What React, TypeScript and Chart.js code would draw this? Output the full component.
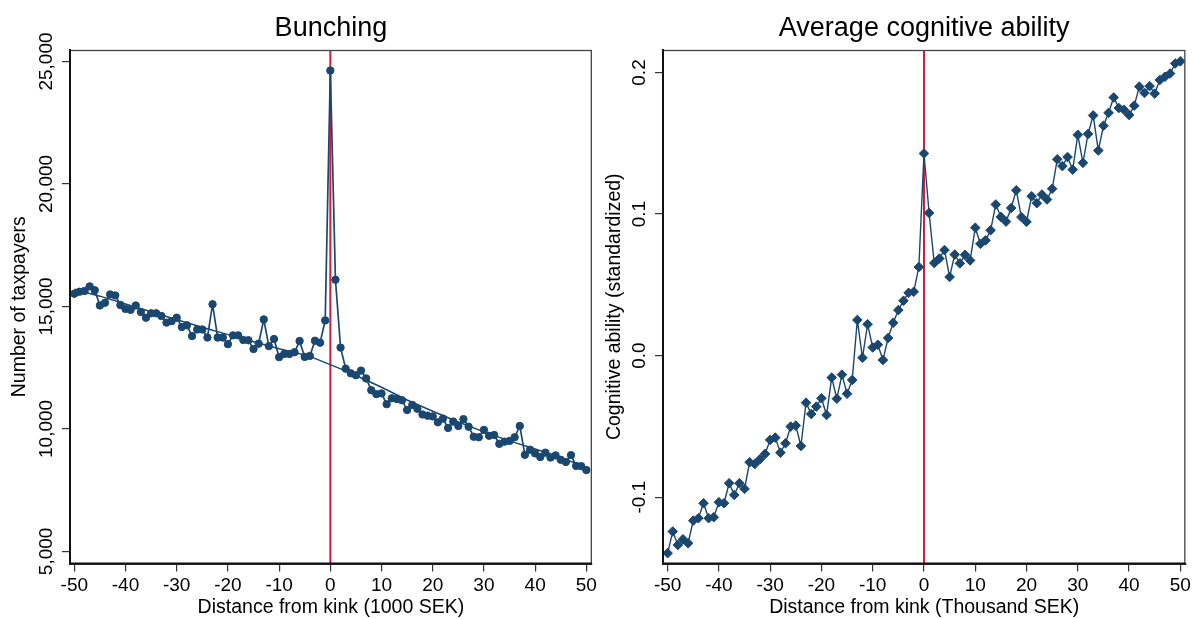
import React, { useEffect, useRef } from 'react';
import { Chart, registerables } from 'chart.js';

Chart.register(...registerables);

const FONT = '"Liberation Sans", Arial, Helvetica, sans-serif';
const NAVY = '#1a476f';
const RED = '#d7193c';

// Distance from kink (1000 SEK) bins
const distance = [
  -50, -49, -48, -47, -46, -45, -44, -43, -42, -41, -40, -39, -38, -37, -36, -35, -34, -33, -32, -31,
  -30, -29, -28, -27, -26, -25, -24, -23, -22, -21, -20, -19, -18, -17, -16, -15, -14, -13, -12, -11,
  -10, -9, -8, -7, -6, -5, -4, -3, -2, -1, 0, 1, 2, 3, 4, 5, 6, 7, 8, 9,
  10, 11, 12, 13, 14, 15, 16, 17, 18, 19, 20, 21, 22, 23, 24, 25, 26, 27, 28, 29,
  30, 31, 32, 33, 34, 35, 36, 37, 38, 39, 40, 41, 42, 43, 44, 45, 46, 47, 48, 49, 50,
];

// Number of taxpayers per bin
const taxpayers = [
  15520, 15600, 15630, 15820, 15660, 15040, 15150, 15490, 15450, 15060,
  14900, 14860, 15040, 14770, 14540, 14720, 14720, 14610, 14340, 14400,
  14540, 14160, 14230, 13790, 14060, 14060, 13730, 15090, 13730, 13730,
  13460, 13820, 13820, 13630, 13620, 13260, 13480, 14470, 13380, 13670,
  12930, 13060, 13060, 13130, 13590, 12940, 12980, 13600, 13520, 14430,
  24630, 16090, 13320, 12460, 12270, 12190, 12380, 12060, 11580, 11420,
  11450, 11010, 11250, 11220, 11170, 10770, 10980, 10820, 10590, 10540,
  10510, 10270, 10420, 10040, 10300, 10120, 10400, 10090, 9680, 9660,
  9960, 9720, 9750, 9390, 9480, 9510, 9660, 10120, 8940, 9150,
  9000, 8850, 9030, 8830, 8920, 8740, 8650, 8930, 8490, 8480, 8320,
];

// Counterfactual (fitted) distribution
const fitX = [-50, -45, -40, -35, -30, -25, -20, -15, -10, -5, -4, 3, 5, 10, 15, 20, 25, 30, 35, 40, 45, 50];
const fitY = [15700, 15420, 15100, 14780, 14460, 14150, 13850, 13560, 13270, 13020, 12960, 12370, 12180, 11700, 11180, 10720, 10280, 9880, 9510, 9180, 8830, 8420];

// Average cognitive ability (standardized) per bin
const cognitive = [
  -0.1395, -0.1242, -0.1337, -0.1297, -0.1325, -0.1165, -0.1148, -0.1042, -0.1148, -0.1141,
  -0.1035, -0.1042, -0.0901, -0.0984, -0.0901, -0.0941, -0.0753, -0.0765, -0.0732, -0.0694,
  -0.0595, -0.0579, -0.0685, -0.0619, -0.0501, -0.0494, -0.0638, -0.0332, -0.0412, -0.0360,
  -0.0301, -0.0419, -0.0155, -0.0304, -0.0134, -0.0269, -0.0172, 0.0252, -0.0015, 0.0222,
  0.0058, 0.0077, -0.0031, 0.0125, 0.0232, 0.0322, 0.0388, 0.0444, 0.0451, 0.0626,
  0.1428, 0.1008, 0.0654, 0.0686, 0.0746, 0.0556, 0.0714, 0.0652, 0.0712, 0.0673,
  0.0904, 0.0790, 0.0814, 0.0886, 0.1068, 0.0980, 0.0947, 0.1043, 0.1168, 0.0979,
  0.0945, 0.1126, 0.1077, 0.1138, 0.1103, 0.1179, 0.1387, 0.1339, 0.1403, 0.1314,
  0.1560, 0.1362, 0.1566, 0.1697, 0.1449, 0.1624, 0.1715, 0.1824, 0.1749, 0.1737,
  0.1700, 0.1766, 0.1900, 0.1856, 0.1904, 0.1851, 0.1947, 0.1970, 0.1993, 0.2064, 0.2079,
];

const xTicks = [-50, -40, -30, -20, -10, 0, 10, 20, 30, 40, 50];
const leftYTicks = [5000, 10000, 15000, 20000, 25000];
const rightYTicks = [-0.1, 0, 0.1, 0.2];

const LEFT_Y = { min: 4505, max: 25470 };
const RIGHT_Y = { min: -0.1468, max: 0.2159 };
const LEFT_X = { min: -50.84, max: 51.07 };
const RIGHT_X = { min: -50.9, max: 50.97 };

function framePlugin(labelX: number, fmt: (v: number) => string) {
  return {
    id: 'frameAndYLabels',
    afterDraw(chart: any) {
      const { ctx, chartArea: a } = chart;
      ctx.save();
      ctx.strokeStyle = '#444';
      ctx.lineWidth = 1.3;
      ctx.strokeRect(a.left, a.top + 0.5, a.right - a.left - 0.5, a.bottom - a.top);
      ctx.strokeStyle = '#111';
      ctx.lineWidth = 2;
      ctx.beginPath();
      ctx.moveTo(a.left, a.top);
      ctx.lineTo(a.left, a.bottom);
      ctx.lineTo(a.right, a.bottom);
      ctx.stroke();
      const ys = chart.scales.y;
      ctx.fillStyle = '#000';
      ctx.font = `19px ${FONT}`;
      ctx.textAlign = 'center';
      ctx.textBaseline = 'alphabetic';
      ys.ticks.forEach((t: any) => {
        const py = ys.getPixelForValue(t.value);
        ctx.save();
        ctx.translate(labelX, py);
        ctx.rotate(-Math.PI / 2);
        ctx.fillText(fmt(t.value), 0, 0);
        ctx.restore();
      });
      ctx.restore();
    },
  };
}

function axisCommon() {
  return {
    grid: {
      display: true,
      drawOnChartArea: false,
      drawTicks: true,
      tickLength: 8,
      color: '#333',
      tickColor: '#333',
      lineWidth: 1.2,
    },
    border: { display: true, color: '#111', width: 2 },
  };
}

function buildConfig(p: {
  title: string;
  xTitle: string;
  yTitle: string;
  xr: { min: number; max: number };
  yr: { min: number; max: number };
  yTicks: number[];
  yWidth: number;
  yTitlePad: number;
  labelX: number;
  fmt: (v: number) => string;
  datasets: any[];
}) {
  return {
    type: 'scatter' as const,
    data: { datasets: p.datasets },
    options: {
      responsive: false,
      animation: false as const,
      events: [],
      layout: { padding: { left: 0, right: 7, top: 0, bottom: 0 } },
      plugins: {
        legend: { display: false },
        tooltip: { enabled: false },
        title: {
          display: true,
          text: p.title,
          fullSize: false,
          color: '#000',
          font: { size: 27, family: FONT, weight: 'normal' as const },
          padding: { top: 12.5, bottom: 5.1 },
        },
      },
      scales: {
        x: {
          type: 'linear' as const,
          min: p.xr.min,
          max: p.xr.max,
          ...axisCommon(),
          afterBuildTicks: (s: any) => {
            s.ticks = xTicks.map((v) => ({ value: v }));
          },
          afterFit: (s: any) => {
            s.height = 55.5;
          },
          ticks: {
            color: '#000',
            font: { size: 19, family: FONT },
            padding: 3,
            maxRotation: 0,
            autoSkip: false,
            callback: (v: any) => String(v),
          },
          title: {
            display: true,
            text: p.xTitle,
            color: '#000',
            font: { size: 19.5, family: FONT },
            padding: { top: 0, bottom: 0 },
          },
        },
        y: {
          type: 'linear' as const,
          min: p.yr.min,
          max: p.yr.max,
          ...axisCommon(),
          afterBuildTicks: (s: any) => {
            s.ticks = p.yTicks.map((v) => ({ value: v }));
          },
          afterFit: (s: any) => {
            s.width = p.yWidth;
          },
          ticks: { display: false },
          title: {
            display: true,
            text: p.yTitle,
            color: '#000',
            font: { size: 19.5, family: FONT },
            padding: { top: p.yTitlePad, bottom: 0 },
          },
        },
      },
    },
    plugins: [framePlugin(p.labelX, p.fmt)],
  };
}

function ChartCanvas({ config, width, height, left }: any) {
  const ref = useRef<HTMLCanvasElement | null>(null);
  useEffect(() => {
    if (!ref.current) return;
    const chart = new Chart(ref.current, config);
    return () => chart.destroy();
  }, [config]);
  return (
    <canvas
      ref={ref}
      width={width}
      height={height}
      style={{ position: 'absolute', left, top: 0, width, height }}
    />
  );
}

const leftConfig = buildConfig({
  title: 'Bunching',
  xTitle: 'Distance from kink (1000 SEK)',
  yTitle: 'Number of taxpayers',
  xr: LEFT_X,
  yr: LEFT_Y,
  yTicks: leftYTicks,
  yWidth: 70,
  yTitlePad: 8,
  labelX: 52,
  fmt: (v) => v.toLocaleString('en-US'),
  datasets: [
    {
      data: distance.map((x, i) => ({ x, y: taxpayers[i] })),
      showLine: true,
      borderColor: NAVY,
      backgroundColor: NAVY,
      borderWidth: 1.7,
      pointStyle: 'circle',
      pointRadius: 3.7,
      pointBorderWidth: 1,
      pointBorderColor: NAVY,
      pointBackgroundColor: NAVY,
    },
    {
      data: fitX.map((x, i) => ({ x, y: fitY[i] })),
      showLine: true,
      borderColor: NAVY,
      borderWidth: 1.5,
      pointRadius: 0,
    },
    {
      data: [
        { x: 0, y: LEFT_Y.min },
        { x: 0, y: LEFT_Y.max },
      ],
      showLine: true,
      borderColor: RED,
      borderWidth: 2,
      pointRadius: 0,
    },
  ],
});

const rightConfig = buildConfig({
  title: 'Average cognitive ability',
  xTitle: 'Distance from kink (Thousand SEK)',
  yTitle: 'Cognitive ability (standardized)',
  xr: RIGHT_X,
  yr: RIGHT_Y,
  yTicks: rightYTicks,
  yWidth: 63,
  yTitlePad: 3,
  labelX: 44.7,
  fmt: (v) => v.toFixed(1),
  datasets: [
    {
      data: distance.map((x, i) => ({ x, y: cognitive[i] })),
      showLine: true,
      borderColor: NAVY,
      backgroundColor: NAVY,
      borderWidth: 1.4,
      pointStyle: 'rectRot',
      pointRadius: 4.8,
      pointBorderWidth: 1,
      pointBorderColor: NAVY,
      pointBackgroundColor: NAVY,
    },
    {
      data: [
        { x: 0, y: RIGHT_Y.min },
        { x: 0, y: RIGHT_Y.max },
      ],
      showLine: true,
      borderColor: RED,
      borderWidth: 2,
      pointRadius: 0,
    },
  ],
});

export default function App() {
  return (
    <div
      style={{
        position: 'absolute',
        left: 0,
        top: 0,
        width: 1194,
        height: 619,
        background: '#fff',
        overflow: 'hidden',
      }}
    >
      <ChartCanvas config={leftConfig} width={600} height={619} left={0} />
      <ChartCanvas config={rightConfig} width={594} height={619} left={600} />
    </div>
  );
}
